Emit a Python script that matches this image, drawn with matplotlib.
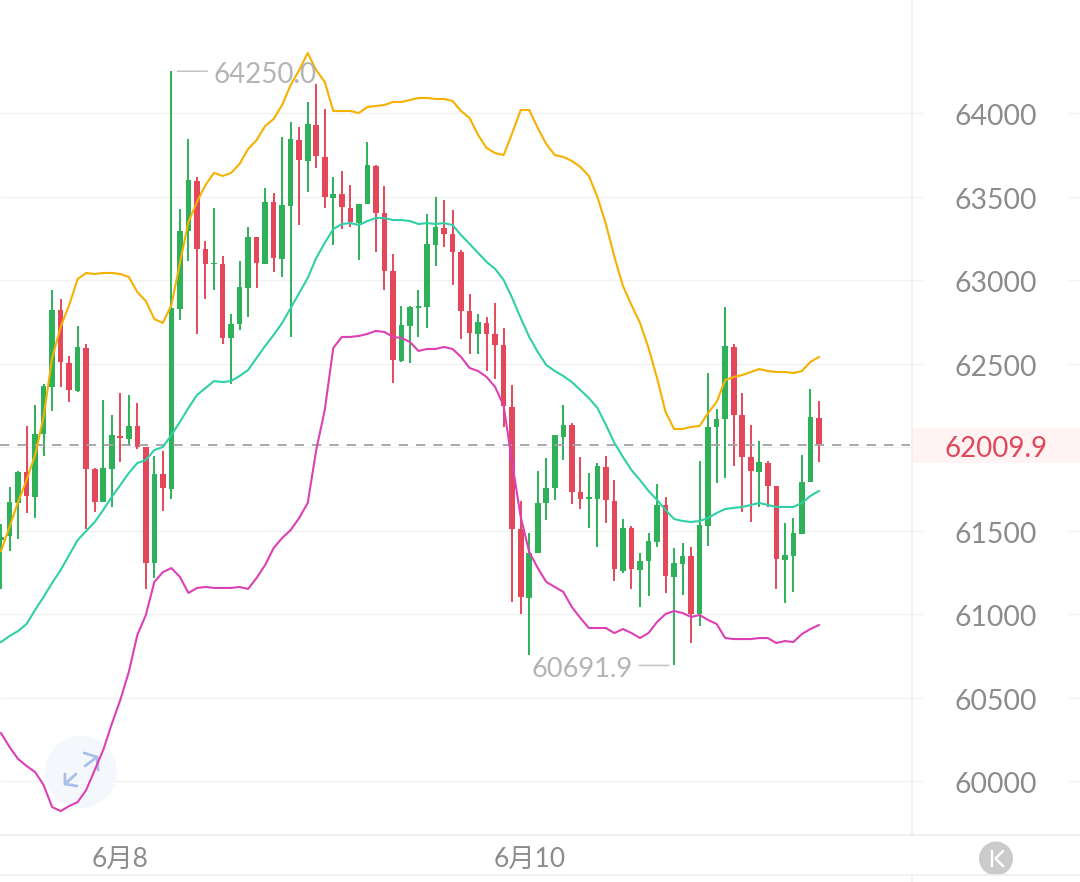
import matplotlib
matplotlib.use("Agg")
import matplotlib.pyplot as plt
from matplotlib.patches import Circle, Rectangle
from matplotlib.lines import Line2D
from matplotlib.transforms import Affine2D

plt.rcParams['font.family'] = ['Lato', 'Noto Sans CJK SC', 'DejaVu Sans']

# OHLC candles, one per period
opens = [61443,61467,61665,61850,61701,62078,62359,62820,62503,62335,62593,61868,61671,61868,62066,62048,62126,62000,61305,61838,
         61749,62826,63293,63593,63186,63096,63096,62653,62737,62952,63257,63096,63467,63126,63443,63838,63713,63928,63737,63491,
         63515,63431,63341,63455,63683,63401,63054,62515,62725,62832,62838,63210,63311,63275,63168,62814,62677,62743,62677,62611,
         62240,61509,61096,61365,61665,61755,62060,62132,61731,61689,61689,61880,61677,61257,61515,61263,61317,61431,61653,61222,
         61299,61347,61000,61527,62120,62168,62599,62192,61940,61850,61904,61766,61323,61347,61479,61790,62174]
highs = [61539,61760,61856,62126,62251,62377,62940,62886,62545,62725,62617,61874,62281,62192,62323,62311,62263,62000,61946,61976,
         64250.0,63425,63844,63617,63234,63431,63144,62796,63114,63317,63257,63551,63521,63856,63946,63916,64066,64174,64024,63617,
         63653,63569,63455,63826,63689,63563,63156,62844,62844,62940,63395,63497,63479,63419,63180,62916,62796,62778,62862,62713,
         62371,61677,61485,61856,61934,62072,62251,62144,61940,61844,61904,61946,61802,61569,61527,61365,61485,61778,61701,61395,
         61425,61401,61916,62443,62228,62838,62617,62323,62132,62036,61916,61766,61545,61575,61952,62347,62275]
lows = [61150,61377,61449,61605,61575,61946,62216,62359,62270,62329,61509,61611,61671,61641,61910,62006,61988,61150,61216,61617,
        61689,62760,63114,62677,62886,62940,62617,62377,62701,62778,62952,63096,63048,63018,62659,63329,63527,63671,63431,63210,
        63305,63317,63120,63455,63168,62940,62383,62509,62503,62659,62713,63084,63198,62970,62647,62557,62557,62455,62407,62120,
        61072,61000,60754,61365,61563,61683,61922,61659,61629,61515,61401,61545,61198,61245,61150,61042,61108,61401,61126,60691.9,
        61114,60826,60928,61407,61784,61814,61886,61611,61551,61641,61641,61150,61066,61132,61479,61790,61910]
closes = [61461,61671,61850,61707,62078,62365,62820,62509,62341,62599,61868,61671,61874,62072,62054,62126,62000,61305,61838,61755,
          62832,63293,63599,63186,63096,63102,62653,62737,62958,63257,63102,63467,63132,63449,63844,63719,63934,63743,63497,63515,
          63437,63347,63455,63689,63401,63054,62521,62731,62838,62844,63216,63317,63275,63168,62814,62683,62749,62677,62611,62246,
          61509,61102,61365,61665,61755,62072,62132,61731,61689,61701,61886,61683,61269,61515,61269,61317,61437,61653,61228,61305,
          61347,61000,61533,62120,62168,62605,62192,61940,61856,61910,61766,61329,61353,61485,61790,62180,62009.9]

# Bollinger bands
band_upper = [61377,61521,61671,61802,61952,62180,62533,62719,62850,63006,63042,63036,63042,63042,63036,63018,62928,62874,62766,62743,
              62850,63102,63347,63467,63569,63641,63623,63641,63695,63784,63838,63922,63964,64048,64168,64257,64359,64257,64186,64012,
              64012,64012,64000,64036,64042,64048,64066,64066,64078,64090,64090,64084,64084,64072,64012,63970,63868,63790,63760,63748,
              63880,64018,64018,63910,63814,63748,63737,63713,63677,63623,63497,63335,63138,62964,62850,62743,62593,62413,62210,62108,
              62108,62120,62126,62204,62270,62401,62419,62431,62449,62467,62455,62449,62449,62443,62455,62509,62539]
band_middle = [60832,60868,60898,60940,61024,61102,61186,61263,61353,61443,61497,61551,61623,61701,61772,61844,61904,61922,61982,62000,
               62072,62150,62234,62311,62353,62395,62389,62395,62425,62461,62533,62605,62671,62743,62832,62922,63012,63132,63222,63305,
               63335,63341,63329,63353,63371,63371,63359,63359,63353,63335,63341,63335,63341,63329,63269,63216,63162,63108,63066,63000,
               62892,62772,62659,62569,62491,62455,62425,62389,62341,62293,62234,62132,62024,61940,61862,61802,61737,61683,61623,61569,
               61557,61551,61557,61575,61605,61629,61635,61641,61653,61665,61653,61641,61641,61641,61665,61707,61737]
band_lower = [60287,60204,60132,60090,60054,59976,59844,59820,59850,59874,59946,60066,60186,60341,60485,60653,60874,60994,61192,61251,
              61275,61222,61126,61156,61162,61156,61156,61156,61162,61150,61216,61293,61395,61455,61503,61575,61665,61982,62222,62593,
              62659,62659,62665,62677,62695,62689,62659,62653,62629,62575,62587,62587,62599,62587,62539,62473,62455,62419,62359,62246,
              61904,61581,61371,61275,61192,61162,61132,61042,60976,60916,60916,60916,60886,60910,60886,60856,60886,60952,61000,61018,
              61006,60982,60994,60964,60940,60856,60850,60850,60850,60856,60856,60826,60838,60832,60880,60910,60934]

price_ticks = [60000, 60500, 61000, 61500, 62500, 63000, 63500, 64000]
grid_levels = [60000, 60500, 61000, 61500, 62000, 62500, 63000, 63500, 64000]
date_positions = [14, 62]
date_labels = ['6月8', '6月10']
last_price = 62009.9
high_index, high_price = 20, 64250.0
low_index, low_price = 79, 60691.9

GREEN = '#2fb15a'
RED = '#e5475a'
GRID = '#f1f1f1'
LABEL = '#8c8c8c'
NOTE = '#b4b4b4'

W, H = 1080, 882
fig = plt.figure(figsize=(W / 100, H / 100), dpi=100, facecolor='white')
PLOT_H = 835
ax = fig.add_axes([0, (H - PLOT_H) / H, 1, PLOT_H / H])

# Price and index scales
STEP = 8.52
PX_PER_PRICE = 0.167
ax.set_xlim(-1 / STEP, (W - 1) / STEP)
ax.set_ylim(60000 - (PLOT_H - 781) / PX_PER_PRICE, 60000 + 781 / PX_PER_PRICE)

for side in ('left', 'top', 'right'):
    ax.spines[side].set_visible(False)
ax.spines['bottom'].set_color('#ececec')
ax.spines['bottom'].set_linewidth(1.2)

ax.yaxis.tick_right()
ax.set_yticks(price_ticks, [str(p) for p in price_ticks])
ax.tick_params(axis='y', length=0, pad=-60.5, labelsize=20.4, labelcolor=LABEL)
label_nudge = Affine2D().translate(0, -4)
for lbl in ax.get_yticklabels():
    lbl.set_ha('center')
    lbl.set_va('center')
    lbl.set_transform(lbl.get_transform() + label_nudge)
ax.set_xticks(date_positions, date_labels)
ax.tick_params(axis='x', length=0, pad=9, labelsize=19, labelcolor=LABEL)

# Screen-space helper for the overlay widgets
to_px = Affine2D().scale(1, -1).translate(0, H)

# Horizontal grid, broken around the price labels
ytrans = ax.get_yaxis_transform()
ax.hlines(grid_levels, 0, 923 / W, color=GRID, lw=1, transform=ytrans, zorder=0)
ax.hlines(grid_levels, 1068 / W, 1, color=GRID, lw=1, transform=ytrans, zorder=0)

# Panel separators
fig.add_artist(Line2D([912, 912], [0, 835], transform=to_px, color='#f0f0f0', lw=1.2))
fig.add_artist(Line2D([912, 912], [875, 882], transform=to_px, color='#f0f0f0', lw=1.2))
fig.add_artist(Line2D([0, W], [875, 875], transform=to_px, color='#f0f0f0', lw=1.2))

# Expand button behind the bands
ax.add_patch(Circle((81, 772), 36, transform=to_px, facecolor='#f4f8fd', edgecolor='none', zorder=1))
for xs, ys in ([(85, 97), (766, 757)], [(84, 97, 98), (753, 757, 770)],
               [(76, 65), (774, 784)], [(65, 65, 77), (774, 784, 786)]):
    ax.add_line(Line2D(xs, ys, transform=to_px, color='#aabfe8', lw=2, zorder=1.5,
                       solid_capstyle='round', solid_joinstyle='round'))

# Candles
index = list(range(len(opens)))
colors = [GREEN if c >= o else RED for o, c in zip(opens, closes)]
ax.vlines(index, lows, highs, colors=colors, lw=1.4, zorder=2)
ax.bar(index, [abs(c - o) for o, c in zip(opens, closes)],
       bottom=[min(o, c) for o, c in zip(opens, closes)],
       width=0.66, color=colors, linewidth=0, zorder=2.1)

# Bands
ax.plot(index, band_upper, color='#f6b100', lw=1.5, zorder=3, solid_joinstyle='round')
ax.plot(index, band_middle, color='#2fd0a6', lw=1.5, zorder=3, solid_joinstyle='round')
ax.plot(index, band_lower, color='#dd3fb4', lw=1.5, zorder=3, solid_joinstyle='round')

# Last price line and its tag
ax.axhline(last_price, xmin=0, xmax=910 / W, color='#a3a3a3', lw=1.3, dashes=(5.2, 4.4), zorder=2.5)
ax.add_patch(Rectangle((912, 428), 168, 35, transform=to_px, facecolor='#fff3f3', edgecolor='none', zorder=1))
ax.text(996, 449, f'{last_price:.1f}', transform=to_px, color='#e0485b', fontsize=20,
        ha='center', va='center', zorder=4)

# High and low callouts
ax.annotate('', xy=(high_index, high_price), xytext=(36, 0), textcoords='offset pixels',
            arrowprops=dict(arrowstyle='-', color='#c4c4c4', lw=1.1, shrinkA=0, shrinkB=4.3))
ax.annotate(f'{high_price:.1f}', xy=(high_index, high_price), xytext=(42, -4), textcoords='offset pixels',
            color=NOTE, fontsize=20, ha='left', va='center', zorder=4)
ax.annotate('', xy=(low_index, low_price), xytext=(-35, 0), textcoords='offset pixels',
            arrowprops=dict(arrowstyle='-', color='#c4c4c4', lw=1.1, shrinkA=0, shrinkB=3.6))
ax.annotate(f'{low_price:.1f}', xy=(low_index, low_price), xytext=(-41, -4), textcoords='offset pixels',
            color=NOTE, fontsize=19.6, ha='right', va='center', zorder=4)

# Jump-to-latest button
fig.add_artist(Circle((996, 858.5), 17, transform=to_px, facecolor='#cbcbcb', edgecolor='none'))
fig.add_artist(Line2D([992, 992], [851, 866], transform=to_px, color='white', lw=1.7))
fig.add_artist(Line2D([1003, 995.5, 1003], [851, 858.5, 866], transform=to_px, color='white', lw=1.7))

fig.savefig('out.png', dpi=100, facecolor='white')
